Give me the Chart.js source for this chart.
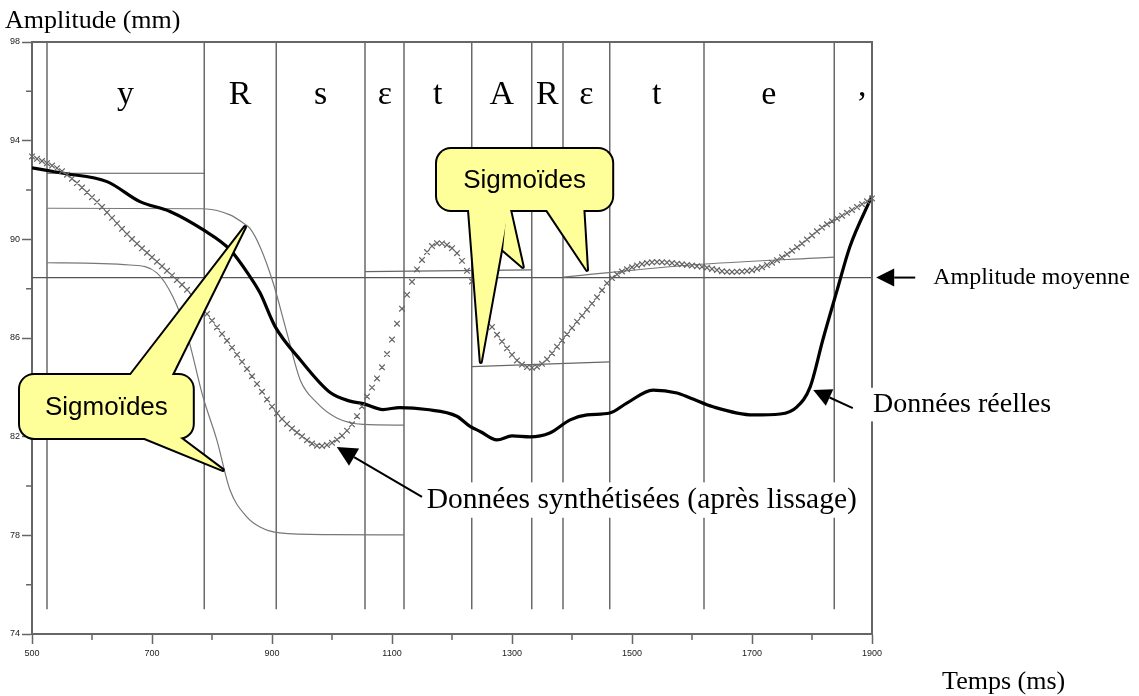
<!DOCTYPE html>
<html>
<head>
<meta charset="utf-8">
<script src="https://cdn.jsdelivr.net/npm/chart.js@4"></script>
<style>
  html, body { margin: 0; padding: 0; background: #fff; }
</style>
</head>
<body>
<canvas id="chart" width="1139" height="696"></canvas>
<script>
// Segments phonétiques (ms) et leurs étiquettes
const segBounds = [525, 787, 907, 1055, 1120, 1233, 1333, 1385, 1463, 1620, 1837];
const segBottom = 75;
const phonemes = ['y', 'R', 's', 'ε', 't', 'A', 'R', 'ε', 't', 'e', '’'];
const phonemeT = [656, 847, 981, 1088, 1176, 1283, 1359, 1424, 1541, 1728, 1883];

// Données réelles (trait gras)
const realT = [500, 552, 625, 680, 730, 785, 830, 863, 880, 905, 947, 997, 1030, 1052, 1085, 1113, 1158, 1208, 1230, 1247, 1275, 1300, 1330, 1363, 1397, 1425, 1463, 1492, 1535, 1575, 1597, 1635, 1702, 1747, 1775, 1797, 1818, 1842, 1863, 1900];
const realA = [92.9, 92.68, 92.34, 91.53, 91.13, 90.39, 89.58, 88.5, 87.83, 86.47, 85.12, 83.79, 83.44, 83.34, 83.1, 83.18, 83.1, 82.83, 82.42, 82.21, 81.87, 82.03, 81.99, 82.15, 82.68, 82.88, 82.96, 83.37, 83.89, 83.77, 83.57, 83.21, 82.88, 82.92, 83.21, 84.02, 85.92, 87.95, 89.69, 91.76];

// Données synthétisées (après lissage)
const synthT = [500, 552, 608, 663, 718, 763, 808, 863, 908, 947, 980, 1008, 1035, 1058, 1080, 1097, 1113, 1130, 1147, 1177, 1208, 1230, 1263, 1285, 1313, 1333, 1352, 1380, 1408, 1442, 1463, 1497, 1542, 1592, 1618, 1663, 1702, 1742, 1780, 1818, 1858, 1900];
const synthA = [93.36, 92.73, 91.52, 90.1, 88.88, 87.83, 86.45, 84.58, 82.96, 82.07, 81.62, 81.87, 82.56, 83.61, 84.62, 85.72, 86.93, 88.07, 89.04, 89.85, 89.45, 88.47, 86.61, 85.8, 84.99, 84.79, 84.99, 85.8, 86.65, 87.66, 88.35, 88.84, 89.08, 88.96, 88.88, 88.68, 88.76, 89.16, 89.77, 90.5, 91.07, 91.66];

// Sigmoïdes
const sig1T = [525, 787];
const sig1A = [92.68, 92.68];
const sig2T = [525, 785, 830, 852, 863, 880, 902, 925, 947, 975, 1008, 1052, 1120];
const sig2A = [91.26, 91.24, 90.99, 90.66, 90.45, 89.7, 88.23, 86.2, 84.3, 83.37, 82.76, 82.5, 82.47];
const sig3T = [525, 663, 708, 735, 758, 785, 808, 830, 858, 880, 913, 997, 1120];
const sig3A = [89.05, 88.96, 88.64, 87.66, 86.2, 83.61, 81.87, 79.84, 78.75, 78.34, 78.1, 78.03, 78.02];
const sig4T = [1055, 1333];
const sig4A = [88.69, 88.76];
const sig5T = [1233, 1463];
const sig5A = [84.84, 85.03];
const sig6T = [1385, 1600, 1837];
const sig6A = [88.47, 88.96, 89.28];

// Amplitude moyenne
const meanT = [500, 1900];
const meanA = [88.45, 88.45];

// Graduations
const xTicks = [500, 700, 900, 1100, 1300, 1500, 1700, 1900];
const yTicks = [74, 78, 82, 86, 90, 94, 98];

const SERIF = '"Liberation Serif", "DejaVu Serif", serif';
const SANS = '"Liberation Sans", Arial, sans-serif';

function pts(xs, ys) {
    return xs.map((x, i) => ({ x: x, y: ys[i] }));
}

function curve(xs, ys, color, width, order) {
    return {
        data: pts(xs, ys),
        borderColor: color,
        borderWidth: width,
        pointRadius: 0,
        cubicInterpolationMode: 'monotone',
        order: order
    };
}

// Traits verticaux des segments (un seul dataset avec coupures)
const segData = segBounds.flatMap(b => [{ x: b, y: 98 }, { x: b, y: segBottom }, { x: b, y: null }]);

/**
 * Dessine les croix le long de la courbe synthétisée (pas constant en x).
 */
function drawCrosses(chart, index) {
    const meta = chart.getDatasetMeta(index);
    meta.dataset.updateControlPoints(chart.chartArea, 'x');
    const p = meta.data;
    const ctx = chart.ctx;
    const s = 2.8;
    ctx.save();
    ctx.strokeStyle = '#666';
    ctx.lineWidth = 1.25;
    ctx.beginPath();
    let seg = 0;
    for (let px = p[0].x; px <= p[p.length - 1].x + 0.01; px += 5) {
        while (seg < p.length - 2 && px > p[seg + 1].x) seg++;
        const a = p[seg], b = p[seg + 1];
        const t = Math.min(1, (px - a.x) / (b.x - a.x));
        const u = 1 - t;
        const y = u * u * u * a.y + 3 * u * u * t * a.cp2y + 3 * u * t * t * b.cp1y + t * t * t * b.y;
        ctx.moveTo(px - s, y - s); ctx.lineTo(px + s, y + s);
        ctx.moveTo(px - s, y + s); ctx.lineTo(px + s, y - s);
    }
    ctx.stroke();
    ctx.restore();
}

function arrow(ctx, x0, y0, x1, y1, len, half) {
    const ang = Math.atan2(y1 - y0, x1 - x0);
    const bx = x1 - len * Math.cos(ang), by = y1 - len * Math.sin(ang);
    ctx.beginPath();
    ctx.moveTo(x0, y0);
    ctx.lineTo(bx, by);
    ctx.lineWidth = 2;
    ctx.strokeStyle = '#000';
    ctx.stroke();
    ctx.beginPath();
    ctx.moveTo(x1, y1);
    ctx.lineTo(bx + half * Math.sin(ang), by - half * Math.cos(ang));
    ctx.lineTo(bx - half * Math.sin(ang), by + half * Math.cos(ang));
    ctx.closePath();
    ctx.fillStyle = '#000';
    ctx.fill();
}

// Bulles "Sigmoïdes" (coordonnées en ms / mm)
const callouts = [
    {
        box: [480, 768, 84.5, 81.95],
        tails: [
            [[652, 84.1], [855, 90.5], [725, 84.1]],
            [[647, 82.35], [818, 80.65], [725, 82.35]]
        ]
    },
    {
        box: [1175, 1467, 93.66, 91.19],
        tails: [
            [[1227, 91.6], [1248, 85.03], [1297, 91.6]],
            [[1293, 91.6], [1318, 88.88], [1285, 89.57]],
            [[1347, 91.6], [1425, 88.76], [1418, 91.6]]
        ]
    }
];

function drawCallout(chart, c) {
    const ctx = chart.ctx;
    const xs = chart.scales.x, ys = chart.scales.y;
    const x0 = xs.getPixelForValue(c.box[0]), x1 = xs.getPixelForValue(c.box[1]);
    const y0 = ys.getPixelForValue(c.box[2]), y1 = ys.getPixelForValue(c.box[3]);
    const shapes = [];
    shapes.push(() => ctx.roundRect(x0, y0, x1 - x0, y1 - y0, 14));
    c.tails.forEach(tail => shapes.push(() => {
        tail.forEach((pt, i) => {
            const px = xs.getPixelForValue(pt[0]), py = ys.getPixelForValue(pt[1]);
            if (i === 0) ctx.moveTo(px, py); else ctx.lineTo(px, py);
        });
        ctx.closePath();
    }));
    ctx.save();
    ctx.lineJoin = 'round';
    // contour double puis remplissage : on obtient l'union des formes
    ctx.lineWidth = 4;
    ctx.strokeStyle = '#000';
    shapes.forEach(s => { ctx.beginPath(); s(); ctx.stroke(); });
    ctx.fillStyle = '#ffff99';
    shapes.forEach(s => { ctx.beginPath(); s(); ctx.fill(); });
    ctx.fillStyle = '#000';
    ctx.font = '26px ' + SANS;
    ctx.textAlign = 'center';
    ctx.textBaseline = 'middle';
    ctx.fillText('Sigmoïdes', (x0 + x1) / 2, (y0 + y1) / 2 + 1);
    ctx.restore();
}

function label(ctx, text, x, y, size, bg) {
    ctx.font = size + 'px ' + SERIF;
    ctx.textAlign = 'left';
    ctx.textBaseline = 'middle';
    if (bg) {
        const w = ctx.measureText(text).width;
        ctx.fillStyle = '#fff';
        ctx.fillRect(x - 2, y - size * 0.6, w + 4, size * 1.2);
    }
    ctx.fillStyle = '#000';
    ctx.fillText(text, x, y);
}

const decorPlugin = {
    id: 'decor',
    afterDatasetsDraw(chart) {
        drawCrosses(chart, 1);
    },
    afterDraw(chart) {
        const ctx = chart.ctx;
        const xs = chart.scales.x, ys = chart.scales.y;
        const area = chart.chartArea;
        const X = v => xs.getPixelForValue(v);
        const Y = v => ys.getPixelForValue(v);

        ctx.save();
        // cadre haut et droit
        ctx.strokeStyle = '#666';
        ctx.lineWidth = 2;
        ctx.beginPath();
        ctx.moveTo(area.left, area.top);
        ctx.lineTo(area.right, area.top);
        ctx.lineTo(area.right, area.bottom);
        ctx.stroke();

        // graduations secondaires
        ctx.lineWidth = 1.5;
        ctx.beginPath();
        for (let i = 0; i < xTicks.length - 1; i++) {
            const px = X((xTicks[i] + xTicks[i + 1]) / 2);
            ctx.moveTo(px, area.bottom);
            ctx.lineTo(px, area.bottom + 6);
        }
        for (let i = 0; i < yTicks.length - 1; i++) {
            const py = Y((yTicks[i] + yTicks[i + 1]) / 2);
            ctx.moveTo(area.left, py);
            ctx.lineTo(area.left - 6, py);
        }
        ctx.stroke();

        // étiquettes phonétiques
        ctx.fillStyle = '#000';
        ctx.font = '34px ' + SERIF;
        ctx.textAlign = 'center';
        ctx.textBaseline = 'alphabetic';
        phonemes.forEach((p, i) => ctx.fillText(p, X(phonemeT[i]), Y(i === phonemes.length - 1 ? 95.1 : 95.5)));

        // titres des axes
        ctx.font = '26px ' + SERIF;
        ctx.textAlign = 'left';
        ctx.fillText('Amplitude (mm)', X(455), Y(98.57));
        ctx.textAlign = 'right';
        ctx.fillText('Temps (ms)', X(2222), Y(71.78));

        // annotations
        label(ctx, 'Données synthétisées (après lissage)', X(1158), Y(79.43), 29.5, true);
        arrow(ctx, X(1150), Y(79.56), X(1008), Y(81.58), 20, 10);
        label(ctx, 'Données réelles', X(1900) + 1, Y(83.3), 28, true);
        arrow(ctx, X(1868), Y(83.16), X(1802), Y(83.89), 18, 9);
        label(ctx, 'Amplitude moyenne', X(2002), Y(88.45), 24, false);
        arrow(ctx, X(1972), Y(88.45), X(1907), Y(88.45), 18, 9);

        callouts.forEach(c => drawCallout(chart, c));
        ctx.restore();
    }
};

new Chart(document.getElementById('chart'), {
    type: 'line',
    data: {
        datasets: [
            curve(realT, realA, '#000', 3.2, 0),
            { data: pts(synthT, synthA), borderColor: 'rgba(0,0,0,0)', borderWidth: 1, pointRadius: 0, cubicInterpolationMode: 'monotone', order: 1 },
            curve(sig1T, sig1A, '#555', 1.2, 2),
            curve(sig2T, sig2A, '#777', 1.2, 3),
            curve(sig3T, sig3A, '#777', 1.2, 4),
            curve(sig4T, sig4A, '#666', 1.2, 5),
            curve(sig5T, sig5A, '#666', 1.2, 6),
            curve(sig6T, sig6A, '#777', 1.2, 7),
            curve(meanT, meanA, '#555', 1.2, 8),
            { data: segData, borderColor: '#444', borderWidth: 1.2, pointRadius: 0, tension: 0, spanGaps: false, order: 9 }
        ]
    },
    options: {
        responsive: false,
        animation: false,
        events: [],
        layout: { padding: { top: 42, right: 267, left: 0, bottom: 0 } },
        plugins: { legend: { display: false }, tooltip: { enabled: false } },
        scales: {
            x: {
                type: 'linear',
                min: 500,
                max: 1900,
                afterBuildTicks: axis => { axis.ticks = xTicks.map(v => ({ value: v })); },
                afterFit: axis => { axis.height = 62; },
                grid: { drawOnChartArea: false, tickLength: 10, color: '#666', tickWidth: 1.5 },
                border: { color: '#666', width: 2 },
                ticks: { color: '#222', padding: 4, maxRotation: 0, font: { size: 9, family: SANS }, callback: v => String(v) }
            },
            y: {
                min: 74,
                max: 98,
                afterBuildTicks: axis => { axis.ticks = yTicks.map(v => ({ value: v })); },
                afterFit: axis => { axis.width = 32; },
                grid: { drawOnChartArea: false, tickLength: 10, color: '#666', tickWidth: 1.5 },
                border: { color: '#666', width: 2 },
                ticks: { color: '#222', padding: 2, font: { size: 9, family: SANS }, callback: v => String(v) }
            }
        }
    },
    plugins: [decorPlugin]
});
</script>
</body>
</html>
